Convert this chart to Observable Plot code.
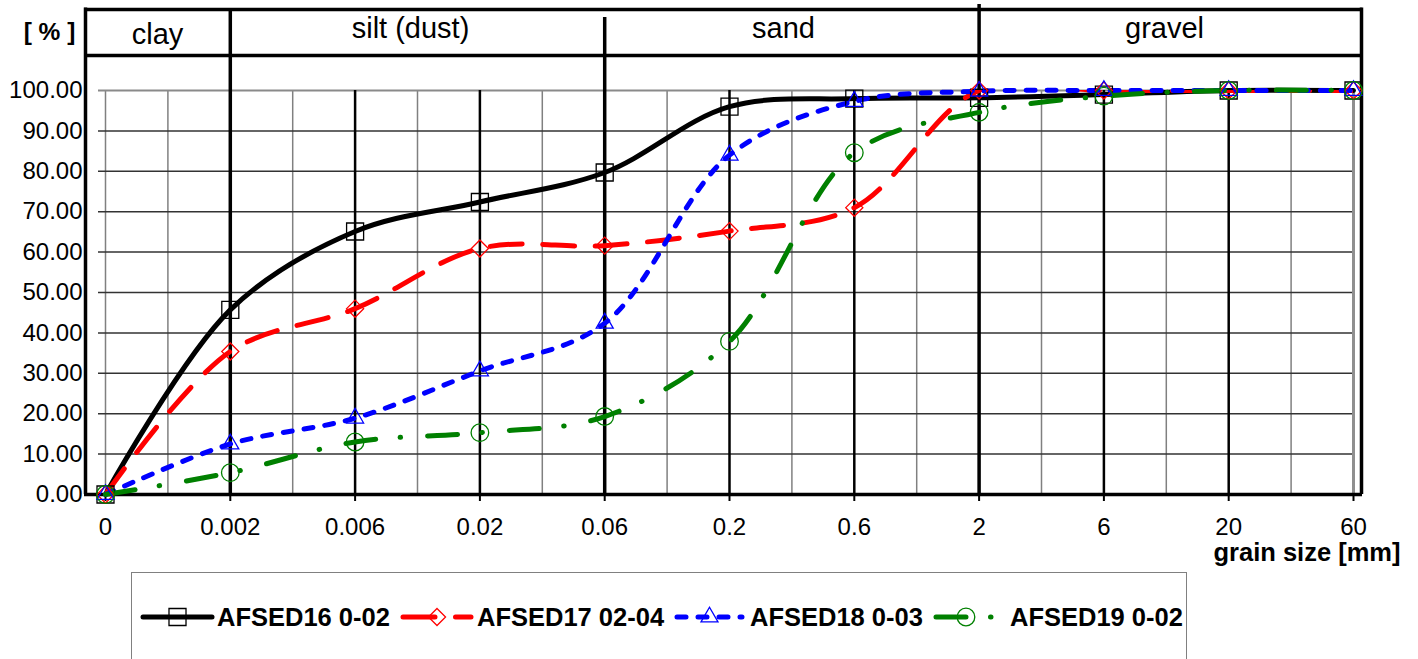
<!DOCTYPE html>
<html>
<head>
<meta charset="utf-8">
<script src="https://cdn.jsdelivr.net/npm/d3@7"></script>
<script src="https://cdn.jsdelivr.net/npm/@observablehq/plot@0.6"></script>
<style>
  html, body { margin: 0; padding: 0; background: #fff; }
  #wrap { position: relative; width: 1418px; height: 659px; overflow: hidden; font-family: "Liberation Sans", Arial, sans-serif; }
  #legendBox { position: absolute; left: 131px; top: 572px; width: 1056px; height: 200px; border: 1px solid #808080; box-sizing: border-box; }
  .ltext { position: absolute; font-weight: bold; font-size: 25.5px; line-height: 30px; color: #000; white-space: nowrap; }
</style>
</head>
<body>
<div id="wrap"></div>
<script>
// ---------- data ----------
const xLabels = ["0", "0.002", "0.006", "0.02", "0.06", "0.2", "0.6", "2", "6", "20", "60"];
const yTicks = [0, 10, 20, 30, 40, 50, 60, 70, 80, 90, 100];
const seriesNames = ["AFSED16 0-02", "AFSED17 02-04", "AFSED18 0-03", "AFSED19 0-02"];
const afsed16 = [0, 45.7, 65.1, 72.4, 79.7, 96.0, 98.0, 98.2, 99.0, 100, 100];
const afsed17 = [0, 35.4, 46.0, 60.9, 61.6, 65.2, 71.0, 100, 100, 100, 100];
const afsed18 = [0, 12.5, 18.9, 30.6, 42.4, 84.0, 97.3, 99.8, 100, 100, 100];
const afsed19 = [0, 5.4, 13.0, 15.3, 19.3, 37.9, 84.6, 94.6, 98.6, 100, 100];
const fractionNames = ["clay", "silt (dust)", "sand", "gravel"];
const fractionBounds = [1, 4, 7];
const yAxisLabel = "[ % ]";
const xAxisLabel = "grain size [mm]";

// ---------- layout helpers ----------
const W = 1418, H = 572;
const X0 = 105, X1 = 1353, Y0 = 494, Y1 = 90;
const px2x = px => (px - X0) / (X1 - X0) * 10;
const px2y = py => (Y0 - py) / (Y0 - Y1) * 100;

const styles = [
  {color: "#000000", dash: null, symbol: "square", r: 9.6, d3sym: d3.symbolSquare, clip: false},
  {color: "#ff0000", dash: "32,20.5", symbol: "diamond2", r: 7.7, d3sym: d3.symbolDiamond2, clip: true},
  {color: "#0000ff", dash: "9,12", symbol: "triangle2", r: 8.1, d3sym: d3.symbolTriangle2, clip: false},
  {color: "#008000", dash: "30,24.5,0.5,27", symbol: "circle", r: 8.8, d3sym: d3.symbolCircle, clip: false}
];
const allSeries = [afsed16, afsed17, afsed18, afsed19];
const rows = allSeries.map(vals => vals.map((v, i) => ({i, v})));
const idx = xLabels.map((d, i) => i);
const minorIdx = idx.slice(0, -1).map(i => i + 0.5);
const innerMajor = idx.filter(i => i > 0 && i < 10 && !fractionBounds.includes(i));
const boundTops = [px2y(8), px2y(17), px2y(4)];
const headerCenters = [px2x(157), px2x(410), px2x(783), px2x(1164)];
const headerBaselines = [px2y(43), px2y(37), px2y(37), px2y(37)];

const marks = [
  // minor vertical grid
  Plot.ruleX(minorIdx, {y1: 0, y2: 100, stroke: "#808080", strokeWidth: 1.5}),
  Plot.ruleX([0], {y1: 0, y2: 100, stroke: "#808080", strokeWidth: 1.5}),
  // horizontal grid
  Plot.ruleY(yTicks, {x1: px2x(98), x2: 10, stroke: d => d === 100 ? "#8a8a8a" : "#333", strokeWidth: d => d === 100 ? 2 : 1.5}),
  Plot.ruleX([10], {y1: 0, y2: 100, stroke: "#8f8f8f", strokeWidth: 3}),
  // major vertical grid
  Plot.ruleX(innerMajor, {y1: 0, y2: 100, stroke: "#000", strokeWidth: 2.5}),
  // ticks below axis
  Plot.ruleX(idx, {y1: 0, y2: px2y(501), stroke: "#000", strokeWidth: 2}),
  // fraction boundaries
  Plot.ruleX(fractionBounds, {x: d => d, y1: 0, y2: (d, i) => boundTops[i], stroke: "#000", strokeWidth: 3.5}),
  // header frame
  Plot.ruleY([px2y(9), px2y(55)], {x1: px2x(84), x2: px2x(1362), stroke: "#000", strokeWidth: 3.5}),
  Plot.ruleX([px2x(85), px2x(1361)], {y1: 0, y2: px2y(7.5), stroke: "#000", strokeWidth: 3.5}),
  Plot.ruleY([0], {x1: px2x(84), x2: px2x(1362), stroke: "#000", strokeWidth: 3.5}),
  // header labels
  Plot.text(fractionNames, {x: (d, i) => headerCenters[i], y: (d, i) => headerBaselines[i], text: d => d, lineAnchor: "bottom", textAnchor: "middle", fontSize: 29, fill: "#000"}),
  // axis labels
  Plot.text([yAxisLabel], {x: px2x(49), y: px2y(39), text: d => d, lineAnchor: "bottom", textAnchor: "middle", fontSize: 24.5, fontWeight: "bold", fill: "#000"}),
  Plot.text([xAxisLabel], {x: px2x(1400), y: px2y(560), text: d => d, lineAnchor: "bottom", textAnchor: "end", fontSize: 25.5, fontWeight: "bold", fill: "#000"}),
  // tick labels
  Plot.text(yTicks, {x: px2x(82), y: d => d, text: d => d.toFixed(2), lineAnchor: "middle", textAnchor: "end", fontSize: 24, fill: "#000"}),
  Plot.text(xLabels, {x: (d, i) => i, y: px2y(534), text: d => d, lineAnchor: "bottom", textAnchor: "middle", fontSize: 24, fill: "#000"})
];

// series lines
allSeries.forEach((vals, k) => {
  const s = styles[k];
  marks.push(Plot.line(rows[k], {x: "i", y: "v", stroke: s.color, strokeWidth: 5, curve: "catmull-rom",
    strokeDasharray: s.dash || undefined, strokeLinecap: "round", strokeLinejoin: "round", clip: s.clip}));
});
// markers
allSeries.forEach((vals, k) => {
  const s = styles[k];
  marks.push(Plot.dot(rows[k], {x: "i", y: "v", symbol: s.symbol, r: s.r, stroke: s.color, fill: "none", strokeWidth: 1.3}));
});

const chart = Plot.plot({
  width: W,
  height: H,
  marginLeft: X0,
  marginRight: W - X1,
  marginTop: Y1,
  marginBottom: H - Y0,
  x: {domain: [0, 10], axis: null},
  y: {domain: [0, 100], axis: null},
  style: {fontFamily: "Liberation Sans, Arial, sans-serif", background: "white", overflow: "visible"},
  marks
});
chart.style.position = "absolute";
chart.style.left = "0px";
chart.style.top = "0px";

const wrap = document.getElementById("wrap");
wrap.appendChild(chart);

// ---------- legend ----------
const box = document.createElement("div");
box.id = "legendBox";
wrap.appendChild(box);

const legendPos = [
  {sx: 143, sw: 69, tx: 217},
  {sx: 403, sw: 68, tx: 477},
  {sx: 677, sw: 65, tx: 750},
  {sx: 936, sw: 60, tx: 1010}
];
const legendCY = 617;
seriesNames.forEach((name, k) => {
  const s = styles[k], p = legendPos[k];
  const sv = d3.create("svg")
    .attr("width", p.sw + 6).attr("height", 30)
    .style("position", "absolute")
    .style("left", (p.sx - 3) + "px")
    .style("top", (legendCY - 15) + "px")
    .style("overflow", "visible");
  sv.append("line")
    .attr("x1", 3).attr("x2", p.sw + 3).attr("y1", 15).attr("y2", 15)
    .attr("stroke", s.color).attr("stroke-width", 5)
    .attr("stroke-linecap", "round")
    .attr("stroke-dasharray", s.dash);
  sv.append("path")
    .attr("d", d3.symbol(s.d3sym, Math.PI * s.r * s.r)())
    .attr("transform", `translate(${p.sw / 2 + 3},15)`)
    .attr("fill", "none").attr("stroke", s.color).attr("stroke-width", 1.3);
  wrap.appendChild(sv.node());
  const t = document.createElement("div");
  t.className = "ltext";
  t.textContent = name;
  t.style.left = p.tx + "px";
  t.style.top = (legendCY - 15) + "px";
  wrap.appendChild(t);
});
</script>
</body>
</html>
